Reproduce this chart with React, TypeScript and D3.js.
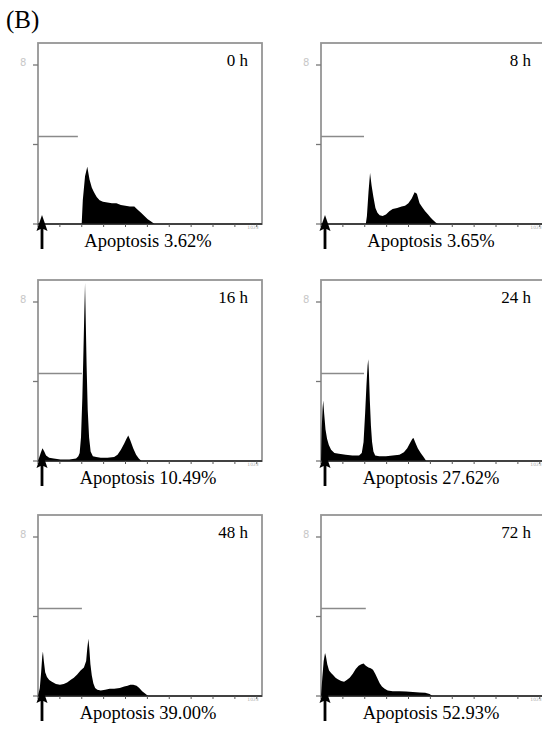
import React from "react";
import * as d3 from "d3";

// ---------- data (channel on 0–1000 scale, counts in % of top tick) ----------
const timeLabels = ["0 h", "8 h", "16 h", "24 h", "48 h", "72 h"];
const apoptosisLabels = [
  "Apoptosis 3.62%",
  "Apoptosis 3.65%",
  "Apoptosis 10.49%",
  "Apoptosis 27.62%",
  "Apoptosis 39.00%",
  "Apoptosis 52.93%",
];
const yTickValues = [0, 50, 100];
const yTickLabel = "8";
const xTickLabel = "1023";
const gateLevel = 55;
const gateEnd = [178, 192, 196, 192, 196, 200];

const hist0h: [number, number][] = [
  [180, 0], [195, 0], [200, 15], [210, 30], [220, 36], [230, 28], [240, 23], [250, 20],
  [262, 17], [275, 15], [290, 14], [310, 13.5], [330, 13], [350, 13], [370, 12],
  [390, 11.5], [410, 11], [430, 11], [445, 9], [460, 7], [475, 5], [490, 3],
  [505, 1.5], [520, 0],
];
const hist8h: [number, number][] = [
  [200, 0], [205, 5], [212, 20], [219, 32], [226, 24], [234, 17], [243, 10], [252, 7],
  [262, 5.5], [275, 5], [290, 6], [305, 8], [320, 9.5], [340, 10], [360, 11],
  [375, 11.5], [390, 13], [405, 16], [418, 20], [428, 19], [440, 13], [452, 10.5],
  [465, 8], [478, 6], [490, 4], [500, 2.5], [512, 1], [522, 0],
];
const hist16h: [number, number][] = [
  [0, 0], [5, 2], [12, 5], [20, 8], [28, 6], [36, 3.5], [50, 2], [70, 1.5], [100, 1],
  [140, 1], [170, 1.5], [180, 3], [186, 5], [192, 15], [198, 40], [203, 70], [207, 95],
  [210, 112], [213, 90], [217, 60], [222, 32], [228, 15], [235, 6], [245, 3],
  [260, 2.5], [280, 2], [310, 2], [340, 2.5], [355, 4], [370, 7], [385, 11],
  [395, 14], [403, 16], [412, 13], [425, 8], [438, 4], [450, 1.5], [462, 0],
];
const hist24h: [number, number][] = [
  [0, 0], [3, 20], [7, 33], [10, 38], [14, 30], [20, 20], [27, 14], [35, 10], [45, 7],
  [60, 5], [80, 4.5], [110, 4], [140, 3.5], [170, 3.5], [182, 5], [190, 12], [197, 30],
  [203, 48], [208, 60], [211, 64], [214, 55], [218, 38], [223, 22], [228, 12],
  [234, 6], [242, 3.5], [260, 3], [290, 3], [320, 3.5], [350, 4], [370, 5.5],
  [385, 8], [398, 11.5], [408, 14], [413, 14.5], [420, 12], [432, 8], [445, 5],
  [458, 2.5], [470, 0],
];
const hist48h: [number, number][] = [
  [0, 0], [8, 5], [14, 15], [19, 25], [22, 28], [26, 22], [32, 15], [40, 12], [50, 10],
  [62, 9], [80, 7.5], [98, 7], [115, 7.5], [130, 8.5], [145, 10], [160, 11.5],
  [175, 13.5], [190, 16], [205, 18], [215, 22], [220, 30], [225, 36], [229, 30],
  [234, 20], [240, 13], [247, 8], [255, 5], [265, 4], [280, 3.5], [300, 4], [320, 4.5],
  [340, 4.5], [365, 5], [385, 6], [400, 6.5], [412, 7], [425, 7], [440, 6.5],
  [452, 5], [465, 3], [478, 1.5], [492, 0],
];
const hist72h: [number, number][] = [
  [0, 0], [6, 12], [12, 22], [18, 27], [22, 25], [28, 20], [36, 16], [45, 14.5],
  [55, 13], [65, 11.5], [75, 10.5], [90, 9.5], [103, 9], [115, 10], [128, 11.5],
  [142, 14], [155, 17], [168, 19], [180, 20], [190, 20.5], [200, 19], [212, 18],
  [222, 17.5], [232, 16.5], [242, 14], [252, 11], [262, 8], [272, 6], [284, 4.5],
  [298, 3.5], [320, 3], [350, 3], [380, 2.8], [410, 2.5], [440, 2.2], [465, 2],
  [485, 1.2], [497, 0],
];
const histograms = [hist0h, hist8h, hist16h, hist24h, hist48h, hist72h];
const xTickValues = d3.range(0, 11).map((i) => (i * 100 * 1000) / 1024);

// ---------- layout ----------
const W = 542;
const H = 729;
const PANEL_W = 224;
const PANEL_H = 181;
const FULL_PX = 159;
const COL_X = [38, 321];
const AXIS_Y = [224, 461, 696];
const SERIF = "'Liberation Serif', 'Times New Roman', Times, serif";

function Panel({ idx }: { idx: number }) {
  const left = COL_X[idx % 2];
  const axis = AXIS_Y[Math.floor(idx / 2)];
  const top = axis - PANEL_H;
  const right = left + PANEL_W;
  const x = d3.scaleLinear().domain([0, 1000]).range([left, right]);
  const y = d3.scaleLinear().domain([0, 100]).range([axis, axis - FULL_PX]);
  const area = d3
    .area<[number, number]>()
    .x((d) => x(d[0]))
    .y0(axis)
    .y1((d) => y(d[1]))
    .curve(d3.curveLinear);
  const clipId = `clip-${idx}`;
  const ax = left + 4;
  return (
    <g>
      <defs>
        <clipPath id={clipId}>
          <rect x={left} y={top} width={PANEL_W} height={PANEL_H} />
        </clipPath>
      </defs>
      {/* frame */}
      <rect x={left} y={top} width={PANEL_W} height={PANEL_H} fill="white" stroke="#959595" strokeWidth={1.8} />
      {/* histogram */}
      <path d={area(histograms[idx]) || ""} fill="#000" clipPath={`url(#${clipId})`} />
      {/* gate marker */}
      <line x1={left} x2={x(gateEnd[idx])} y1={y(gateLevel)} y2={y(gateLevel)} stroke="#8a8a8a" strokeWidth={1.6} />
      {/* y ticks */}
      {yTickValues.map((v) => (
        <line key={v} x1={left - 5} x2={left} y1={y(v)} y2={y(v)} stroke="#777" strokeWidth={1.3} />
      ))}
      <text x={left - 18} y={y(100) + 1} fontSize={10} fill="#c8c8c8" fontFamily="DejaVu Sans, sans-serif">
        {yTickLabel}
      </text>
      {/* x axis */}
      <line x1={left} x2={right} y1={axis} y2={axis} stroke="#222" strokeWidth={1.7} />
      {xTickValues.map((v, i) => (
        <line key={i} x1={x(v)} x2={x(v)} y1={axis} y2={axis + 3} stroke="#555" strokeWidth={1} />
      ))}
      <text x={right - 9} y={axis + 5} fontSize={4.5} fill="#aaa" textAnchor="middle" fontFamily="DejaVu Sans, sans-serif">
        {xTickLabel}
      </text>
      {/* arrow */}
      <path
        d={`M${ax},${axis - 9} L${ax + 5.5},${axis + 7} L${ax + 1.4},${axis + 5} L${ax + 1.4},${axis + 25} L${ax - 1.4},${axis + 25} L${ax - 1.4},${axis + 5} L${ax - 5.5},${axis + 7} Z`}
        fill="#000"
      />
      {/* labels */}
      <text x={right - 14} y={y(100) + 1} fontSize={17} textAnchor="end" fontFamily={SERIF} fill="#000">
        {timeLabels[idx]}
      </text>
      <text x={left + 110} y={axis + 23} fontSize={18.5} textAnchor="middle" fontFamily={SERIF} fill="#000">
        {apoptosisLabels[idx]}
      </text>
    </g>
  );
}

export default function App() {
  return (
    <svg
      width={W}
      height={H}
      viewBox={`0 0 ${W} ${H}`}
      style={{ position: "absolute", left: 0, top: 0, background: "white" }}
    >
      <rect width={W} height={H} fill="white" />
      <text x={6} y={28} fontSize={25} fontFamily={SERIF} fill="#000">
        (B)
      </text>
      {timeLabels.map((_, i) => (
        <Panel key={i} idx={i} />
      ))}
    </svg>
  );
}
